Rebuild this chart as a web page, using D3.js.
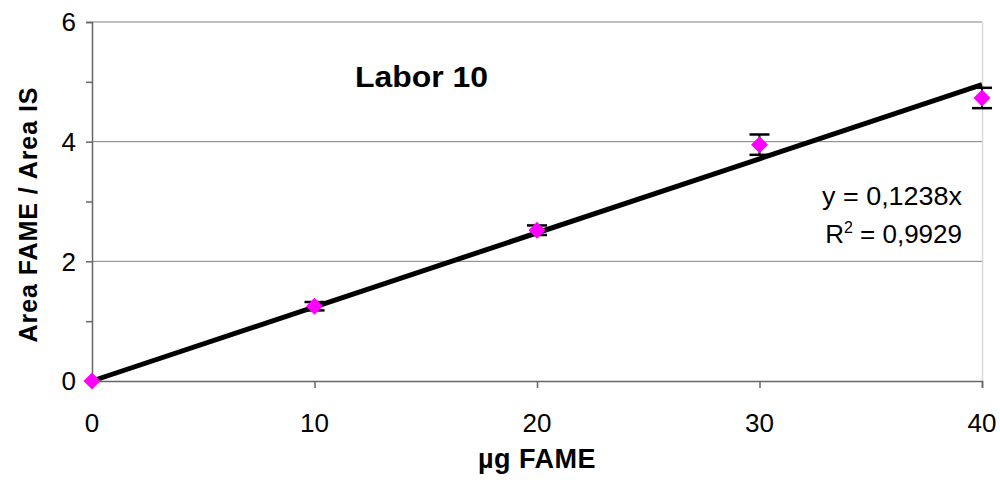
<!DOCTYPE html>
<html><head><meta charset="utf-8">
<script src="https://cdn.jsdelivr.net/npm/d3@7"></script>
<style>body{margin:0;background:#fff}svg{display:block}text{font-family:"Liberation Sans",Arial,sans-serif}</style>
</head><body><svg id="c" width="1000" height="493"></svg>
<script>
const xValues = [0, 10, 20, 30, 40];
const yValues = [0, 1.25, 2.52, 3.95, 4.73];
const yErrors = [0, 0.07, 0.08, 0.17, 0.17];
const slope = 0.1238;
const xTicks = [0, 10, 20, 30, 40];
const yTicks = [0, 2, 4, 6];
const yMinorTicks = [0, 1, 2, 3, 4, 5, 6];
const title = "Labor 10";
const eq1 = "y = 0,1238x";
const eq2 = "R² = 0,9929";

const svg = d3.select("#c");
const L = 92, R = 982, T = 22, B = 381;
const x = d3.scaleLinear().domain([0, 40]).range([L, R]);
const y = d3.scaleLinear().domain([0, 6]).range([B, T]);

// gridlines
svg.append("g").selectAll("line").data(yTicks.filter(d => d > 0)).join("line")
  .attr("x1", L).attr("x2", R).attr("y1", d => y(d)).attr("y2", d => y(d))
  .attr("stroke", "#808080").attr("stroke-width", 1);
// right border
svg.append("line").attr("x1", R + 0.5).attr("x2", R + 0.5).attr("y1", T).attr("y2", B)
  .attr("stroke", "#d9d9d9").attr("stroke-width", 1.5);

// axes
const yAxis = svg.append("g").attr("transform", `translate(${L},0)`)
  .call(d3.axisLeft(y).tickValues(yMinorTicks).tickSize(6).tickFormat(""));
const xAxis = svg.append("g").attr("transform", `translate(0,${B})`)
  .call(d3.axisBottom(x).tickValues(xTicks).tickSize(7).tickFormat(""));
[yAxis, xAxis].forEach(g => {
  g.select(".domain").attr("stroke", "#666").attr("stroke-width", 1.5);
  g.selectAll(".tick line").attr("stroke", "#666").attr("stroke-width", 1.5);
});

// tick labels
svg.append("g").selectAll("text").data(yTicks).join("text")
  .attr("x", 76).attr("y", d => y(d)).attr("dy", "0.36em")
  .attr("text-anchor", "end").attr("font-size", 26).attr("fill", "#000").text(d => d);
svg.append("g").selectAll("text").data(xTicks).join("text")
  .attr("x", d => x(d)).attr("y", 432)
  .attr("text-anchor", "middle").attr("font-size", 26).attr("fill", "#000").text(d => d);

// regression line
svg.append("line").attr("x1", x(0)).attr("y1", y(0)).attr("x2", x(40)).attr("y2", y(slope * 40))
  .attr("stroke", "#000").attr("stroke-width", 5);

// error bars
const pts = xValues.map((v, i) => ({x: v, y: yValues[i], e: yErrors[i]}));
const eb = svg.append("g").selectAll("g").data(pts.filter(d => d.e > 0)).join("g");
eb.append("line").attr("x1", d => x(d.x)).attr("x2", d => x(d.x))
  .attr("y1", d => y(d.y + d.e)).attr("y2", d => y(d.y - d.e)).attr("stroke", "#000").attr("stroke-width", 2);
eb.append("line").attr("x1", d => x(d.x) - 10).attr("x2", d => x(d.x) + 10)
  .attr("y1", d => y(d.y + d.e)).attr("y2", d => y(d.y + d.e)).attr("stroke", "#000").attr("stroke-width", 2.5);
eb.append("line").attr("x1", d => x(d.x) - 10).attr("x2", d => x(d.x) + 10)
  .attr("y1", d => y(d.y - d.e)).attr("y2", d => y(d.y - d.e)).attr("stroke", "#000").attr("stroke-width", 2.5);

// markers
svg.append("g").selectAll("path").data(pts).join("path")
  .attr("transform", d => `translate(${x(d.x)},${y(d.y)})`)
  .attr("d", "M0,-8.5L8.5,0L0,8.5L-8.5,0Z").attr("fill", "#ff00ff");

// texts
svg.append("text").attr("x", 355).attr("y", 87).attr("font-size", 29).attr("font-weight", "bold")
  .attr("textLength", 133).attr("lengthAdjust", "spacingAndGlyphs").text(title);
svg.append("text").attr("x", 962).attr("y", 205).attr("text-anchor", "end").attr("font-size", 26)
  .attr("textLength", 140).attr("lengthAdjust", "spacingAndGlyphs").text(eq1);
const t2 = svg.append("text").attr("x", 962).attr("y", 243).attr("text-anchor", "end").attr("font-size", 26);
t2.append("tspan").text("R");
t2.append("tspan").attr("font-size", 16).attr("dy", -10).text("2");
t2.append("tspan").attr("dy", 10).text(" = 0,9929");
svg.append("text").attr("x", 537).attr("y", 468).attr("text-anchor", "middle").attr("font-size", 27)
  .attr("font-weight", "bold").attr("letter-spacing", 0.5).text("µg FAME");
svg.append("text").attr("transform", "translate(37,215) rotate(-90)").attr("text-anchor", "middle")
  .attr("font-size", 25).attr("font-weight", "bold").attr("textLength", 255).attr("lengthAdjust", "spacing")
  .text("Area FAME / Area IS");
</script></body></html>
